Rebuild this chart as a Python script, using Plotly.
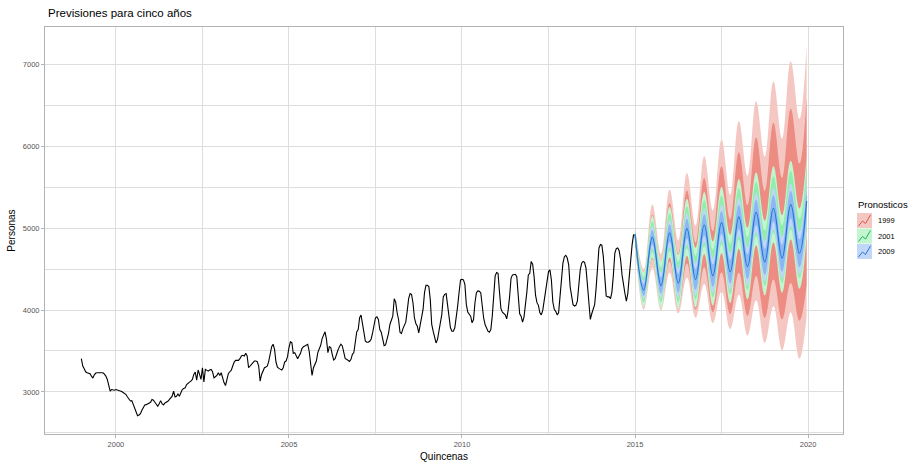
import plotly.graph_objects as go

# ---------------- historical series (fortnightly, 24 per year) ----------------
START_YEAR = 1999
PER_YEAR = 24
hist_1999 = [3406, 3316, 3283, 3246, 3234, 3226, 3221, 3193, 3168, 3209, 3230, 3234, 3238, 3234, 3234, 3234, 3217, 3193, 3152, 3090, 3008, 3029, 3020, 3020]
hist_2000 = [3029, 3025, 3020, 3012, 3004, 2992, 2980, 2967, 2938, 2906, 2889, 2893, 2844, 2791, 2734, 2709, 2717, 2734, 2775, 2803, 2840, 2844, 2852, 2856]
hist_2001 = [2873, 2906, 2898, 2873, 2840, 2824, 2856, 2893, 2856, 2840, 2865, 2873, 2885, 2906, 2926, 2947, 3008, 2938, 2947, 2975, 2947, 2980, 3029, 3041]
hist_2002 = [3049, 3090, 3111, 3119, 3131, 3152, 3213, 3242, 3144, 3267, 3213, 3152, 3295, 3123, 3275, 3262, 3254, 3267, 3275, 3246, 3172, 3185, 3201, 3234]
hist_2003 = [3201, 3234, 3160, 3111, 3078, 3172, 3225, 3246, 3266, 3316, 3365, 3385, 3389, 3385, 3406, 3439, 3447, 3439, 3471, 3439, 3295, 3316, 3336, 3365]
hist_2004 = [3377, 3377, 3369, 3316, 3131, 3213, 3266, 3295, 3303, 3316, 3377, 3471, 3553, 3582, 3520, 3365, 3303, 3287, 3275, 3266, 3295, 3365, 3377, 3430]
hist_2005 = [3541, 3611, 3602, 3471, 3480, 3439, 3406, 3439, 3471, 3529, 3553, 3561, 3574, 3582, 3500, 3336, 3201, 3295, 3336, 3377, 3480, 3529, 3570, 3652]
hist_2006 = [3705, 3734, 3644, 3480, 3553, 3541, 3459, 3389, 3406, 3467, 3512, 3553, 3582, 3561, 3471, 3406, 3398, 3381, 3373, 3398, 3459, 3480, 3623, 3734]
hist_2007 = [3762, 3906, 3939, 3811, 3701, 3619, 3606, 3606, 3619, 3647, 3721, 3844, 3906, 3918, 3885, 3762, 3729, 3647, 3565, 3574, 3639, 3713, 3824, 3885]
hist_2008 = [3926, 4139, 4098, 3967, 3885, 3729, 3713, 3770, 3811, 3852, 3988, 4139, 4201, 4193, 4090, 3906, 3836, 3803, 3721, 3803, 3906, 4008, 4213, 4303]
hist_2009 = [4303, 4287, 4131, 3824, 3742, 3660, 3598, 3639, 3742, 3844, 3947, 4160, 4193, 4201, 4070, 3906, 3783, 3742, 3742, 3783, 3906, 4049, 4221, 4369]
hist_2010 = [4377, 4369, 4316, 4070, 3975, 3955, 3926, 3844, 3885, 4090, 4213, 4234, 4230, 4213, 4029, 3906, 3824, 3770, 3742, 3729, 3762, 3926, 4193, 4418]
hist_2011 = [4460, 4450, 4223, 4017, 3975, 3963, 3942, 3893, 3996, 4161, 4388, 4430, 4438, 4438, 4409, 4141, 3955, 3926, 3852, 3914, 4037, 4223, 4430, 4450]
hist_2012 = [4595, 4562, 4409, 4182, 4091, 4058, 3967, 3942, 3996, 4120, 4265, 4388, 4471, 4492, 4368, 4099, 4009, 3984, 3942, 3967, 4141, 4347, 4574, 4653]
hist_2013 = [4669, 4636, 4554, 4285, 4149, 4066, 4050, 4058, 4108, 4327, 4492, 4574, 4595, 4583, 4512, 4306, 4079, 3885, 3955, 4009, 4066, 4265, 4554, 4760]
hist_2014 = [4801, 4793, 4657, 4430, 4174, 4161, 4161, 4141, 4223, 4430, 4698, 4752, 4760, 4727, 4616, 4430, 4285, 4203, 4108, 4203, 4409, 4636, 4801, 4925]

hist_years = [hist_1999, hist_2000, hist_2001, hist_2002, hist_2003, hist_2004, hist_2005, hist_2006,
              hist_2007, hist_2008, hist_2009, hist_2010, hist_2011, hist_2012, hist_2013, hist_2014]

# ---------------- forecasts (values read at seasonal peaks / troughs) ----------------
fc_time = [2015.0, 2015.25, 2015.5, 2015.75, 2016.0, 2016.25, 2016.5, 2016.75, 2017.0, 2017.25, 2017.5,
           2017.75, 2018.0, 2018.25, 2018.5, 2018.75, 2019.0, 2019.25, 2019.5, 2019.75, 2019.958]

# model 1999
f1999_mean = [4930, 4245, 4890, 4300, 4940, 4330, 4995, 4375, 5040, 4420, 5070, 4470, 5140, 4530, 5195, 4590, 5245, 4635, 5290, 4695, 5330]
f1999_lo80 = [4862, 4090, 4628, 4065, 4598, 4030, 4569, 4005, 4524, 3975, 4463, 3950, 4455, 3930, 4417, 3905, 4374, 3885, 4331, 3870, 4300]
f1999_hi80 = [4999, 4422, 5167, 4567, 5308, 4687, 5461, 4824, 5615, 4963, 5760, 5108, 5931, 5281, 6110, 5455, 6289, 5614, 6462, 5792, 6606]
f1999_lo95 = [4833, 4005, 4519, 3998, 4458, 3957, 4397, 3905, 4319, 3843, 4225, 3770, 4189, 3689, 4120, 3599, 4047, 3510, 3974, 3404, 3922]
f1999_hi95 = [5029, 4500, 5290, 4687, 5473, 4850, 5676, 5031, 5880, 5216, 6084, 5409, 6308, 5640, 6552, 5875, 6796, 6095, 7040, 6338, 7244]

# model 2001
f2001_mean = [4930, 4248, 4896, 4309, 4952, 4345, 5013, 4396, 5064, 4447, 5100, 4503, 5176, 4569, 5237, 4635, 5293, 4686, 5344, 4752, 5390]
f2001_lo80 = [4885, 4092, 4708, 4098, 4723, 4101, 4756, 4127, 4785, 4157, 4802, 4196, 4861, 4246, 4907, 4298, 4949, 4336, 4989, 4391, 5024]
f2001_hi80 = [4975, 4404, 5084, 4520, 5181, 4589, 5270, 4665, 5343, 4737, 5398, 4810, 5491, 4892, 5567, 4972, 5637, 5036, 5699, 5113, 5756]
f2001_lo95 = [4870, 4037, 4641, 4023, 4642, 4015, 4665, 4031, 4685, 4054, 4695, 4086, 4749, 4131, 4790, 4178, 4827, 4212, 4863, 4262, 4893]
f2001_hi95 = [4990, 4459, 5151, 4595, 5262, 4675, 5361, 4761, 5443, 4840, 5505, 4920, 5603, 5007, 5684, 5092, 5759, 5160, 5825, 5242, 5887]

# model 2009
f2009_mean = [4930, 4245, 4890, 4300, 4940, 4330, 4995, 4375, 5040, 4420, 5070, 4470, 5140, 4530, 5195, 4590, 5245, 4635, 5290, 4695, 5330]
f2009_lo80 = [4908, 4172, 4801, 4201, 4832, 4215, 4874, 4248, 4908, 4283, 4929, 4325, 4992, 4378, 5040, 4431, 5083, 4470, 5123, 4525, 5157]
f2009_hi80 = [4952, 4318, 4979, 4399, 5048, 4445, 5116, 4502, 5172, 4557, 5211, 4615, 5288, 4682, 5350, 4749, 5407, 4800, 5457, 4865, 5503]
f2009_lo95 = [4895, 4130, 4752, 4145, 4772, 4151, 4806, 4177, 4835, 4207, 4850, 4244, 4908, 4293, 4952, 4342, 4992, 4378, 5029, 4429, 5061]
f2009_hi95 = [4965, 4360, 5028, 4455, 5108, 4509, 5184, 4573, 5245, 4633, 5290, 4696, 5372, 4767, 5438, 4838, 5498, 4892, 5551, 4961, 5599]

series_names = ["1999", "2001", "2009"]
legend_title = "Pronosticos"
x_tick_vals = [2000, 2005, 2010, 2015, 2020]
y_tick_vals = [3000, 4000, 5000, 6000, 7000]

# ---------------- styling ----------------
FONT = "Liberation Sans, Arial, sans-serif"
W, H = 911, 462
M_L, M_R, M_T, M_B = 45, 68, 27, 28
col_line = {"1999": "#E0554B", "2001": "#19B954", "2009": "#1F78D4"}
col_95 = {"1999": "#F5C7C3", "2001": "#C3F5D0", "2009": "#C2D6F7"}
col_80 = {"1999": "#ED8C83", "2001": "#8FEEAB", "2009": "#8CB7F2"}

fig = go.Figure()

# historical
hx, hy = [], []
for yi, vals in enumerate(hist_years):
    for i, v in enumerate(vals):
        hx.append(START_YEAR + yi + i / PER_YEAR)
        hy.append(v)
fig.add_trace(go.Scatter(x=hx, y=hy, mode="lines", line=dict(color="black", width=1.1),
                         showlegend=False, hoverinfo="skip"))

fc = {
    "1999": (f1999_mean, f1999_lo80, f1999_hi80, f1999_lo95, f1999_hi95),
    "2001": (f2001_mean, f2001_lo80, f2001_hi80, f2001_lo95, f2001_hi95),
    "2009": (f2009_mean, f2009_lo80, f2009_hi80, f2009_lo95, f2009_hi95),
}

SMOOTH = 1.15

def band(lo, hi, color):
    fig.add_trace(go.Scatter(x=fc_time, y=lo, mode="lines", line=dict(width=0, shape="spline", smoothing=SMOOTH),
                             showlegend=False, hoverinfo="skip"))
    fig.add_trace(go.Scatter(x=fc_time, y=hi, mode="lines", line=dict(width=0, shape="spline", smoothing=SMOOTH),
                             fill="tonexty", fillcolor=color, showlegend=False, hoverinfo="skip"))

for name in series_names:
    mean, lo80, hi80, lo95, hi95 = fc[name]
    band(lo95, hi95, col_95[name])
    band(lo80, hi80, col_80[name])
    fig.add_trace(go.Scatter(x=fc_time, y=mean, mode="lines",
                             line=dict(color=col_line[name], width=1.2, shape="spline", smoothing=SMOOTH),
                             showlegend=False, hoverinfo="skip"))

# ---------------- hand-drawn legend (ggplot style keys) ----------------
pw = W - M_L - M_R
ph = H - M_T - M_B
def px(xp):
    return (xp - M_L) / pw
def py(yp):
    return 1 - (yp - M_T) / ph

shapes = []
annotations = [dict(text=legend_title, x=px(856), y=py(205), xref="paper", yref="paper",
                    xanchor="left", yanchor="middle", showarrow=False,
                    font=dict(size=9.5, color="black", family=FONT))]
for r, name in enumerate(series_names):
    yc = 220.5 + 15.5 * r
    k0, k1 = 857, 872
    shapes.append(dict(type="rect", xref="paper", yref="paper",
                       x0=px(k0), x1=px(k1), y0=py(yc + 7.5), y1=py(yc - 7.5),
                       fillcolor=col_95[name], line=dict(width=0), layer="above"))
    pts = [(k0 + 1.5, yc + 5.5), (k0 + 5.5, yc + 0.5), (k0 + 8.5, yc + 3), (k1 - 1.5, yc - 5.5)]
    path = "M " + " L ".join(f"{px(a):.5f},{py(b):.5f}" for a, b in pts)
    shapes.append(dict(type="path", xref="paper", yref="paper", path=path,
                       line=dict(color=col_line[name], width=1), layer="above"))
    annotations.append(dict(text=name, x=px(876), y=py(yc), xref="paper", yref="paper",
                            xanchor="left", yanchor="middle", showarrow=False,
                            font=dict(size=7.5, color="black", family=FONT)))

grid = "#DEDEDE"
border = "#B3B3B3"
tick_col = "#555555"
fig.update_layout(
    template="none",
    width=W, height=H,
    margin=dict(l=M_L, r=M_R, t=M_T, b=M_B, autoexpand=False),
    paper_bgcolor="white", plot_bgcolor="white",
    font=dict(family=FONT, color="black"),
    title=dict(text="Previsiones para cinco años", x=48 / W, xanchor="left",
               y=1 - 13 / H, yanchor="middle", xref="container", yref="container",
               font=dict(size=11.5, color="black", family=FONT)),
    showlegend=False,
    shapes=shapes,
    annotations=annotations,
)
fig.update_xaxes(range=[1997.95, 2021.01], tickvals=x_tick_vals, ticktext=[str(v) for v in x_tick_vals],
                 automargin=False,
                 showgrid=True, gridcolor=grid, gridwidth=1,
                 minor=dict(tickvals=[2002.5, 2007.5, 2012.5, 2017.5], showgrid=True, gridcolor=grid, gridwidth=0.6, ticks=""),
                 showline=True, linecolor=border, linewidth=1, mirror=True,
                 ticks="outside", ticklen=3, tickcolor=border, tickwidth=1,
                 tickfont=dict(size=7.5, color=tick_col, family=FONT),
                 title=dict(text="Quincenas", font=dict(size=10, family=FONT, color="black")),
                 zeroline=False)
fig.update_yaxes(range=[2485, 7461], tickvals=y_tick_vals, ticktext=[str(v) for v in y_tick_vals],
                 automargin=False,
                 showgrid=True, gridcolor=grid, gridwidth=1,
                 minor=dict(tickvals=[2500, 3500, 4500, 5500, 6500], showgrid=True, gridcolor=grid, gridwidth=0.6, ticks=""),
                 showline=True, linecolor=border, linewidth=1, mirror=True,
                 ticks="outside", ticklen=3, tickcolor=border, tickwidth=1,
                 tickfont=dict(size=7.5, color=tick_col, family=FONT),
                 title=dict(text="Personas", font=dict(size=10, family=FONT, color="black")),
                 zeroline=False)

fig.write_html("out.html")
